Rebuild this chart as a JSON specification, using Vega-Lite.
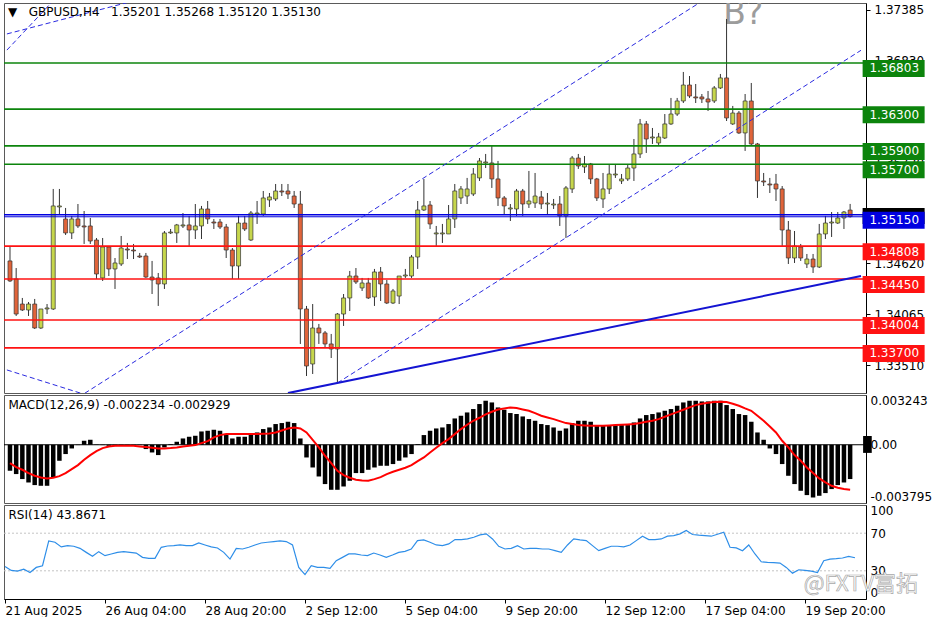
{
"$schema": "https://vega.github.io/schema/vega-lite/v6.json",
"background": "white",
"padding": {"left": 2, "top": 2, "right": 0, "bottom": 0},
"spacing": 2,
"bounds": "flush",
"config": {
  "view": {"stroke": "#5a5a5a", "strokeWidth": 1},
  "axis": {"labelFont": "DejaVu Sans", "labelFontSize": 12, "labelColor": "#000000", "grid": false, "domainColor": "#000000", "tickColor": "#000000"},
  "title": {"font": "DejaVu Sans", "fontSize": 12, "fontWeight": "normal", "color": "#000000", "anchor": "start", "frame": "group", "baseline": "alphabetic"}
},
"datasets": {
"bars": [
{"i":0,"o":1.34647,"h":1.34810,"l":1.34418,"c":1.34429,"m":-0.001695,"s":-0.001195,"r":34.6},
{"i":1,"o":1.34451,"h":1.34570,"l":1.34048,"c":1.34069,"m":-0.00191,"s":-0.001455,"r":30.4},
{"i":2,"o":1.34178,"h":1.34244,"l":1.34102,"c":1.34113,"m":-0.002236,"s":-0.001629,"r":29.6},
{"i":3,"o":1.34113,"h":1.34200,"l":1.34048,"c":1.34178,"m":-0.002458,"s":-0.001846,"r":31.8},
{"i":4,"o":1.34178,"h":1.34233,"l":1.33906,"c":1.33917,"m":-0.002628,"s":-0.00202,"r":28.2},
{"i":5,"o":1.33917,"h":1.34124,"l":1.33906,"c":1.34124,"m":-0.002673,"s":-0.002129,"r":33.6},
{"i":6,"o":1.34124,"h":1.34178,"l":1.34069,"c":1.34135,"m":-0.002673,"s":-0.002194,"r":35.4},
{"i":7,"o":1.34124,"h":1.35431,"l":1.34113,"c":1.35246,"m":-0.002132,"s":-0.00215,"r":61.8},
{"i":8,"o":1.35235,"h":1.35431,"l":1.35158,"c":1.35246,"m":-0.001043,"s":-0.002042,"r":60.4},
{"i":9,"o":1.35104,"h":1.35224,"l":1.34930,"c":1.34952,"m":-0.000606,"s":-0.001846,"r":55.4},
{"i":10,"o":1.34952,"h":1.35137,"l":1.34886,"c":1.35104,"m":-0.000241,"s":-0.001586,"r":56.8},
{"i":11,"o":1.35104,"h":1.35267,"l":1.35006,"c":1.35028,"m":-0.00002,"s":-0.001325,"r":56.1},
{"i":12,"o":1.35028,"h":1.35191,"l":1.34832,"c":1.35017,"m":0.000261,"s":-0.000977,"r":53.9},
{"i":13,"o":1.35028,"h":1.35115,"l":1.34832,"c":1.34864,"m":0.000326,"s":-0.000673,"r":49.6},
{"i":14,"o":1.34875,"h":1.34897,"l":1.34451,"c":1.34505,"m":0.00002,"s":-0.000413,"r":45.4},
{"i":15,"o":1.34462,"h":1.34897,"l":1.34429,"c":1.34799,"m":-0.00002,"s":-0.000217,"r":50.4},
{"i":16,"o":1.34799,"h":1.34810,"l":1.34483,"c":1.34560,"m":-0.000065,"s":-0.000109,"r":46.1},
{"i":17,"o":1.34560,"h":1.34679,"l":1.34342,"c":1.34625,"m":-0.000085,"s":-0.000065,"r":47.9},
{"i":18,"o":1.34614,"h":1.34919,"l":1.34592,"c":1.34788,"m":-0.000065,"s":-0.000065,"r":49.6},
{"i":19,"o":1.34777,"h":1.34843,"l":1.34668,"c":1.34766,"m":-0.000046,"s":-0.000065,"r":50.4},
{"i":20,"o":1.34766,"h":1.34832,"l":1.34668,"c":1.34756,"m":-0.00002,"s":-0.000065,"r":49.6},
{"i":21,"o":1.34701,"h":1.34734,"l":1.34679,"c":1.34690,"m":-0.00002,"s":-0.000109,"r":48.9},
{"i":22,"o":1.34701,"h":1.34734,"l":1.34462,"c":1.34472,"m":-0.00028,"s":-0.000152,"r":44.3},
{"i":23,"o":1.34472,"h":1.34647,"l":1.34287,"c":1.34440,"m":-0.000502,"s":-0.000195,"r":43.2},
{"i":24,"o":1.34462,"h":1.34516,"l":1.34157,"c":1.34396,"m":-0.000672,"s":-0.000239,"r":43.2},
{"i":25,"o":1.34396,"h":1.34973,"l":1.34342,"c":1.34952,"m":-0.000176,"s":-0.000239,"r":55.0},
{"i":26,"o":1.34952,"h":1.34995,"l":1.34941,"c":1.34962,"m":0.000046,"s":-0.000217,"r":56.4},
{"i":27,"o":1.34952,"h":1.35050,"l":1.34843,"c":1.35039,"m":0.000196,"s":-0.000174,"r":56.8},
{"i":28,"o":1.35028,"h":1.35169,"l":1.35006,"c":1.35039,"m":0.000411,"s":-0.000109,"r":57.5},
{"i":29,"o":1.35039,"h":1.35137,"l":1.34810,"c":1.34984,"m":0.000522,"s":-0.000065,"r":56.8},
{"i":30,"o":1.34984,"h":1.35267,"l":1.34886,"c":1.35028,"m":0.000587,"s":-0.000022,"r":56.8},
{"i":31,"o":1.35028,"h":1.35246,"l":1.34886,"c":1.35213,"m":0.000867,"s":0.000109,"r":59.6},
{"i":32,"o":1.35213,"h":1.35300,"l":1.35050,"c":1.35104,"m":0.000913,"s":0.000239,"r":57.5},
{"i":33,"o":1.35071,"h":1.35104,"l":1.34995,"c":1.35060,"m":0.000978,"s":0.000478,"r":55.4},
{"i":34,"o":1.35071,"h":1.35104,"l":1.34995,"c":1.35017,"m":0.000913,"s":0.00063,"r":54.3},
{"i":35,"o":1.35017,"h":1.35050,"l":1.34679,"c":1.34766,"m":0.000698,"s":0.000695,"r":49.6},
{"i":36,"o":1.34766,"h":1.34788,"l":1.34451,"c":1.34592,"m":0.000411,"s":0.000695,"r":42.5},
{"i":37,"o":1.34592,"h":1.35137,"l":1.34451,"c":1.35060,"m":0.000522,"s":0.000695,"r":53.9},
{"i":38,"o":1.35060,"h":1.35137,"l":1.34973,"c":1.34995,"m":0.000522,"s":0.000695,"r":53.2},
{"i":39,"o":1.34875,"h":1.35191,"l":1.34864,"c":1.35169,"m":0.000652,"s":0.000695,"r":55.0},
{"i":40,"o":1.35158,"h":1.35300,"l":1.35050,"c":1.35169,"m":0.000802,"s":0.000695,"r":57.5},
{"i":41,"o":1.35158,"h":1.35409,"l":1.35137,"c":1.35333,"m":0.001024,"s":0.000717,"r":59.6},
{"i":42,"o":1.35311,"h":1.35387,"l":1.35235,"c":1.35344,"m":0.001128,"s":0.000738,"r":60.4},
{"i":43,"o":1.35322,"h":1.35485,"l":1.35300,"c":1.35409,"m":0.00135,"s":0.000804,"r":61.1},
{"i":44,"o":1.35409,"h":1.35485,"l":1.35354,"c":1.35398,"m":0.001415,"s":0.000934,"r":61.8},
{"i":45,"o":1.35409,"h":1.35485,"l":1.35322,"c":1.35376,"m":0.0015,"s":0.001064,"r":61.1},
{"i":46,"o":1.35354,"h":1.35409,"l":1.35224,"c":1.35267,"m":0.001415,"s":0.001129,"r":57.5},
{"i":47,"o":1.35267,"h":1.35409,"l":1.33743,"c":1.34124,"m":0.000411,"s":0.001064,"r":33.6},
{"i":48,"o":1.34124,"h":1.34157,"l":1.33394,"c":1.33503,"m":-0.000828,"s":0.000804,"r":26.0},
{"i":49,"o":1.33525,"h":1.34178,"l":1.33416,"c":1.33917,"m":-0.00148,"s":0.000326,"r":35.4},
{"i":50,"o":1.33917,"h":1.33961,"l":1.33743,"c":1.33863,"m":-0.002067,"s":-0.000174,"r":33.6},
{"i":51,"o":1.33863,"h":1.33884,"l":1.33699,"c":1.33743,"m":-0.002562,"s":-0.000717,"r":33.6},
{"i":52,"o":1.33743,"h":1.33852,"l":1.33590,"c":1.33688,"m":-0.002934,"s":-0.001195,"r":32.5},
{"i":53,"o":1.33688,"h":1.34080,"l":1.33318,"c":1.34069,"m":-0.002934,"s":-0.001694,"r":40.7},
{"i":54,"o":1.34069,"h":1.34287,"l":1.33939,"c":1.34244,"m":-0.002719,"s":-0.001977,"r":44.3},
{"i":55,"o":1.34244,"h":1.34538,"l":1.34102,"c":1.34483,"m":-0.002347,"s":-0.00215,"r":47.9},
{"i":56,"o":1.34483,"h":1.34570,"l":1.34396,"c":1.34418,"m":-0.001845,"s":-0.002281,"r":47.9},
{"i":57,"o":1.34353,"h":1.34462,"l":1.34320,"c":1.34407,"m":-0.001845,"s":-0.002324,"r":46.8},
{"i":58,"o":1.34407,"h":1.34462,"l":1.34233,"c":1.34244,"m":-0.00163,"s":-0.002346,"r":46.1},
{"i":59,"o":1.34255,"h":1.34560,"l":1.34157,"c":1.34527,"m":-0.00148,"s":-0.002237,"r":48.9},
{"i":60,"o":1.34527,"h":1.34581,"l":1.34211,"c":1.34396,"m":-0.001369,"s":-0.002107,"r":46.8},
{"i":61,"o":1.34396,"h":1.34440,"l":1.34178,"c":1.34189,"m":-0.001369,"s":-0.001911,"r":44.3},
{"i":62,"o":1.34189,"h":1.34342,"l":1.34178,"c":1.34320,"m":-0.001258,"s":-0.001759,"r":46.8},
{"i":63,"o":1.34265,"h":1.34483,"l":1.34178,"c":1.34483,"m":-0.001043,"s":-0.001629,"r":49.6},
{"i":64,"o":1.34483,"h":1.34560,"l":1.34462,"c":1.34494,"m":-0.000828,"s":-0.001499,"r":50.7},
{"i":65,"o":1.34483,"h":1.34712,"l":1.34462,"c":1.34690,"m":-0.000606,"s":-0.001325,"r":53.2},
{"i":66,"o":1.34690,"h":1.35300,"l":1.34560,"c":1.35202,"m":0.000046,"s":-0.001064,"r":62.1},
{"i":67,"o":1.35202,"h":1.35540,"l":1.35191,"c":1.35246,"m":0.000632,"s":-0.000825,"r":62.9},
{"i":68,"o":1.35256,"h":1.35300,"l":1.34995,"c":1.35050,"m":0.000913,"s":-0.0005,"r":60.4},
{"i":69,"o":1.34941,"h":1.35028,"l":1.34810,"c":1.34952,"m":0.001063,"s":-0.000195,"r":57.5},
{"i":70,"o":1.34941,"h":1.35050,"l":1.34843,"c":1.34952,"m":0.001128,"s":0.000109,"r":56.8},
{"i":71,"o":1.34941,"h":1.35256,"l":1.34941,"c":1.35104,"m":0.00135,"s":0.000369,"r":58.6},
{"i":72,"o":1.35104,"h":1.35485,"l":1.35006,"c":1.35409,"m":0.001715,"s":0.000695,"r":63.2},
{"i":73,"o":1.35333,"h":1.35463,"l":1.35267,"c":1.35431,"m":0.001891,"s":0.001021,"r":63.2},
{"i":74,"o":1.35354,"h":1.35551,"l":1.35267,"c":1.35431,"m":0.002106,"s":0.001303,"r":63.9},
{"i":75,"o":1.35376,"h":1.35659,"l":1.35354,"c":1.35594,"m":0.002328,"s":0.001564,"r":65.7},
{"i":76,"o":1.35551,"h":1.35768,"l":1.35518,"c":1.35736,"m":0.002654,"s":0.001759,"r":68.2},
{"i":77,"o":1.35714,"h":1.35812,"l":1.35659,"c":1.35725,"m":0.002869,"s":0.001977,"r":69.3},
{"i":78,"o":1.35714,"h":1.35899,"l":1.35442,"c":1.35540,"m":0.002758,"s":0.00215,"r":63.9},
{"i":79,"o":1.35540,"h":1.35736,"l":1.35246,"c":1.35333,"m":0.002432,"s":0.002302,"r":56.1},
{"i":80,"o":1.35333,"h":1.35354,"l":1.35158,"c":1.35246,"m":0.002282,"s":0.002367,"r":53.2},
{"i":81,"o":1.35213,"h":1.35267,"l":1.35082,"c":1.35224,"m":0.002067,"s":0.002433,"r":53.9},
{"i":82,"o":1.35213,"h":1.35431,"l":1.35137,"c":1.35409,"m":0.002002,"s":0.002389,"r":56.8},
{"i":83,"o":1.35409,"h":1.35431,"l":1.35137,"c":1.35267,"m":0.001845,"s":0.002302,"r":53.2},
{"i":84,"o":1.35267,"h":1.35627,"l":1.35224,"c":1.35300,"m":0.001676,"s":0.002215,"r":53.9},
{"i":85,"o":1.35278,"h":1.35605,"l":1.35224,"c":1.35354,"m":0.001565,"s":0.002063,"r":53.9},
{"i":86,"o":1.35344,"h":1.35409,"l":1.35213,"c":1.35267,"m":0.00135,"s":0.00189,"r":53.2},
{"i":87,"o":1.35267,"h":1.35387,"l":1.35158,"c":1.35278,"m":0.001284,"s":0.001781,"r":53.2},
{"i":88,"o":1.35256,"h":1.35322,"l":1.35213,"c":1.35267,"m":0.001128,"s":0.001672,"r":51.4},
{"i":89,"o":1.35267,"h":1.35354,"l":1.35028,"c":1.35137,"m":0.000913,"s":0.001542,"r":49.6},
{"i":90,"o":1.35137,"h":1.35463,"l":1.34897,"c":1.35442,"m":0.001063,"s":0.001412,"r":57.5},
{"i":91,"o":1.35431,"h":1.35790,"l":1.35387,"c":1.35768,"m":0.001415,"s":0.001347,"r":63.9},
{"i":92,"o":1.35768,"h":1.35812,"l":1.35649,"c":1.35681,"m":0.001565,"s":0.001281,"r":62.9},
{"i":93,"o":1.35670,"h":1.35790,"l":1.35605,"c":1.35703,"m":0.001565,"s":0.00126,"r":62.1},
{"i":94,"o":1.35703,"h":1.35714,"l":1.35485,"c":1.35540,"m":0.0015,"s":0.001238,"r":56.8},
{"i":95,"o":1.35540,"h":1.35551,"l":1.35300,"c":1.35333,"m":0.001284,"s":0.001238,"r":51.4},
{"i":96,"o":1.35322,"h":1.35605,"l":1.35224,"c":1.35431,"m":0.001239,"s":0.001238,"r":53.9},
{"i":97,"o":1.35431,"h":1.35703,"l":1.35376,"c":1.35594,"m":0.001284,"s":0.00126,"r":56.1},
{"i":98,"o":1.35583,"h":1.35703,"l":1.35551,"c":1.35594,"m":0.001284,"s":0.001281,"r":56.1},
{"i":99,"o":1.35518,"h":1.35594,"l":1.35485,"c":1.35540,"m":0.001284,"s":0.001303,"r":55.4},
{"i":100,"o":1.35540,"h":1.35703,"l":1.35518,"c":1.35659,"m":0.001284,"s":0.001325,"r":57.5},
{"i":101,"o":1.35659,"h":1.35975,"l":1.35518,"c":1.35812,"m":0.001454,"s":0.001347,"r":62.1},
{"i":102,"o":1.35812,"h":1.36193,"l":1.35768,"c":1.36139,"m":0.001715,"s":0.001412,"r":66.8},
{"i":103,"o":1.36139,"h":1.36171,"l":1.35823,"c":1.35975,"m":0.001936,"s":0.001499,"r":63.2},
{"i":104,"o":1.35986,"h":1.36095,"l":1.35921,"c":1.35997,"m":0.002002,"s":0.001564,"r":63.2},
{"i":105,"o":1.35932,"h":1.36041,"l":1.35899,"c":1.35997,"m":0.002106,"s":0.001672,"r":63.9},
{"i":106,"o":1.35986,"h":1.36247,"l":1.35975,"c":1.36139,"m":0.002217,"s":0.001824,"r":66.8},
{"i":107,"o":1.36139,"h":1.36422,"l":1.36128,"c":1.36247,"m":0.002328,"s":0.001977,"r":67.5},
{"i":108,"o":1.36247,"h":1.36422,"l":1.36226,"c":1.36389,"m":0.002543,"s":0.002129,"r":69.3},
{"i":109,"o":1.36389,"h":1.36705,"l":1.36367,"c":1.36563,"m":0.002758,"s":0.002281,"r":72.9},
{"i":110,"o":1.36563,"h":1.36661,"l":1.36422,"c":1.36443,"m":0.002869,"s":0.002433,"r":68.6},
{"i":111,"o":1.36433,"h":1.36574,"l":1.36367,"c":1.36422,"m":0.002869,"s":0.002585,"r":67.9},
{"i":112,"o":1.36433,"h":1.36465,"l":1.36367,"c":1.36411,"m":0.002823,"s":0.002672,"r":67.5},
{"i":113,"o":1.36411,"h":1.36498,"l":1.36280,"c":1.36378,"m":0.002823,"s":0.002737,"r":66.8},
{"i":114,"o":1.36389,"h":1.36552,"l":1.36367,"c":1.36531,"m":0.002869,"s":0.00278,"r":68.9},
{"i":115,"o":1.36531,"h":1.36683,"l":1.36520,"c":1.36640,"m":0.002869,"s":0.002802,"r":71.1},
{"i":116,"o":1.36640,"h":1.37282,"l":1.36171,"c":1.36204,"m":0.002588,"s":0.00278,"r":55.0},
{"i":117,"o":1.36139,"h":1.36335,"l":1.36128,"c":1.36258,"m":0.002328,"s":0.002672,"r":54.3},
{"i":118,"o":1.36258,"h":1.36280,"l":1.36030,"c":1.36041,"m":0.002002,"s":0.002541,"r":51.4},
{"i":119,"o":1.36041,"h":1.36465,"l":1.35845,"c":1.36389,"m":0.001936,"s":0.002367,"r":57.5},
{"i":120,"o":1.36389,"h":1.36585,"l":1.35910,"c":1.35921,"m":0.0015,"s":0.002215,"r":47.9},
{"i":121,"o":1.35921,"h":1.35932,"l":1.35333,"c":1.35518,"m":0.000802,"s":0.00189,"r":39.6},
{"i":122,"o":1.35518,"h":1.35605,"l":1.35463,"c":1.35507,"m":0.000326,"s":0.001564,"r":38.9},
{"i":123,"o":1.35485,"h":1.35551,"l":1.35387,"c":1.35474,"m":-0.000241,"s":0.001195,"r":38.6},
{"i":124,"o":1.35485,"h":1.35594,"l":1.35300,"c":1.35431,"m":-0.000606,"s":0.000804,"r":38.2},
{"i":125,"o":1.35431,"h":1.35463,"l":1.34810,"c":1.34984,"m":-0.001258,"s":0.000261,"r":33.6},
{"i":126,"o":1.34984,"h":1.35082,"l":1.34614,"c":1.34679,"m":-0.002021,"s":-0.000174,"r":27.5},
{"i":127,"o":1.34679,"h":1.34973,"l":1.34625,"c":1.34810,"m":-0.002562,"s":-0.000673,"r":31.1},
{"i":128,"o":1.34799,"h":1.34832,"l":1.34647,"c":1.34679,"m":-0.002999,"s":-0.001043,"r":30.4},
{"i":129,"o":1.34614,"h":1.34723,"l":1.34570,"c":1.34668,"m":-0.00328,"s":-0.001477,"r":29.6},
{"i":130,"o":1.34668,"h":1.34723,"l":1.34516,"c":1.34581,"m":-0.003436,"s":-0.001846,"r":28.2},
{"i":131,"o":1.34581,"h":1.35050,"l":1.34570,"c":1.34941,"m":-0.003325,"s":-0.002194,"r":40.7},
{"i":132,"o":1.34941,"h":1.35137,"l":1.34886,"c":1.35060,"m":-0.003149,"s":-0.002454,"r":42.5},
{"i":133,"o":1.35060,"h":1.35180,"l":1.34908,"c":1.35071,"m":-0.002888,"s":-0.002672,"r":42.9},
{"i":134,"o":1.35060,"h":1.35180,"l":1.35050,"c":1.35115,"m":-0.002628,"s":-0.002802,"r":43.6},
{"i":135,"o":1.35115,"h":1.35191,"l":1.34995,"c":1.35180,"m":-0.002458,"s":-0.002889,"r":45.4},
{"i":136,"o":1.35201,"h":1.35268,"l":1.35120,"c":1.35130,"m":-0.002234,"s":-0.002929,"r":43.8671}
],
"levels": [
{"p":1.36803,"kind":"res"},{"p":1.363,"kind":"res"},{"p":1.359,"kind":"res"},{"p":1.357,"kind":"res"},
{"p":1.3515,"kind":"piv"},
{"p":1.34808,"kind":"sup"},{"p":1.3445,"kind":"sup"},{"p":1.34004,"kind":"sup"},{"p":1.337,"kind":"sup"}
],
"dashed": [
{"line":"U","i":11,"p":1.33159},{"line":"U","i":113,"p":1.37518},
{"line":"L","i":53,"p":1.33318},{"line":"L","i":137.76,"p":1.36941},
{"line":"A","i":-0.5,"p":1.36943},{"line":"A","i":7.5,"p":1.37517},
{"line":"B","i":-0.5,"p":1.37119},{"line":"B","i":21,"p":1.37496},
{"line":"C","i":-0.5,"p":1.3346},{"line":"C","i":13,"p":1.33174}
],
"trend": [{"i":45,"p":1.33208},{"i":137.76,"p":1.34482}],
"rsilev": [{"lv":70},{"lv":30}]
},
"vconcat": [
{
  "width": 862, "height": 390,
  "title": {"text": "▼\u00a0\u00a0\u00a0GBPUSD,H4\u00a0\u00a0\u00a01.35201 1.35268 1.35120 1.35130", "offset": -16, "dx": 4},
  "layer": [
    {"data": {"values": [{}]},
     "mark": {"type": "text", "text": "B?", "font": "DejaVu Sans", "fontSize": 33, "color": "#9c9c9c", "align": "center", "baseline": "alphabetic", "clip": true},
     "encoding": {
       "x": {"datum": 118.7, "type": "quantitative", "axis": null, "scale": {"domain": [-0.16, 137.76], "nice": false, "zero": false}},
       "y": {"datum": 1.37228, "type": "quantitative", "title": null, "scale": {"domain": [1.33209, 1.37456], "nice": false, "zero": false},
             "axis": {"orient": "right", "values": [1.37385, 1.3683, 1.36275, 1.3572, 1.35165, 1.3462, 1.34065, 1.3351], "format": ".5f", "tickSize": 4, "labelPadding": 4, "labelFlush": false, "labelOverlap": false, "title": null}}}},
    {"data": {"name": "bars"},
     "mark": {"type": "rule", "color": "#333333", "strokeWidth": 1},
     "encoding": {
       "x": {"field": "i", "type": "quantitative", "axis": null},
       "y": {"field": "l", "type": "quantitative", "title": null,
             "axis": {"orient": "right", "values": [1.37385, 1.3683, 1.36275, 1.3572, 1.35165, 1.3462, 1.34065, 1.3351], "format": ".5f", "tickSize": 4, "labelPadding": 4, "labelFlush": false, "labelOverlap": false, "title": null}},
       "y2": {"field": "h"}}},
    {"data": {"name": "bars"},
     "mark": {"type": "bar", "width": 4, "stroke": "#333333", "strokeWidth": 0.7},
     "encoding": {
       "x": {"field": "i", "type": "quantitative", "axis": null},
       "y": {"field": "o", "type": "quantitative", "title": null,
             "axis": {"orient": "right", "values": [1.37385, 1.3683, 1.36275, 1.3572, 1.35165, 1.3462, 1.34065, 1.3351], "format": ".5f", "tickSize": 4, "labelPadding": 4, "labelFlush": false, "labelOverlap": false, "title": null}},
       "y2": {"field": "c"},
       "color": {"condition": {"test": "datum.c >= datum.o", "value": "#c6d64c"}, "value": "#e0643a"}}},
    {"data": {"name": "levels"},
     "mark": {"type": "rule", "strokeWidth": 1.6},
     "encoding": {
       "y": {"field": "p", "type": "quantitative", "title": null,
             "axis": {"orient": "right", "values": [1.37385, 1.3683, 1.36275, 1.3572, 1.35165, 1.3462, 1.34065, 1.3351], "format": ".5f", "tickSize": 4, "labelPadding": 4, "labelFlush": false, "labelOverlap": false, "title": null}},
       "color": {"field": "kind", "type": "nominal", "legend": null, "scale": {"domain": ["res", "sup", "piv"], "range": ["#0c840c", "#ff1212", "#0000e0"]}}}},
    {"data": {"values": [{}]},
     "mark": {"type": "rule", "strokeWidth": 1, "color": "#0000e0"},
     "encoding": {"y": {"datum": 1.35128, "type": "quantitative", "title": null,
             "axis": {"orient": "right", "values": [1.37385, 1.3683, 1.36275, 1.3572, 1.35165, 1.3462, 1.34065, 1.3351], "format": ".5f", "tickSize": 4, "labelPadding": 4, "labelFlush": false, "labelOverlap": false, "title": null}}}},
    {"data": {"name": "dashed"},
     "mark": {"type": "line", "color": "#2a2ae0", "strokeWidth": 1, "strokeDash": [5, 3], "clip": true},
     "encoding": {
       "x": {"field": "i", "type": "quantitative", "axis": null},
       "y": {"field": "p", "type": "quantitative", "title": null,
             "axis": {"orient": "right", "values": [1.37385, 1.3683, 1.36275, 1.3572, 1.35165, 1.3462, 1.34065, 1.3351], "format": ".5f", "tickSize": 4, "labelPadding": 4, "labelFlush": false, "labelOverlap": false, "title": null}},
       "detail": {"field": "line", "type": "nominal"}}},
    {"data": {"name": "trend"},
     "mark": {"type": "line", "color": "#1414d2", "strokeWidth": 2, "clip": true},
     "encoding": {
       "x": {"field": "i", "type": "quantitative", "axis": null},
       "y": {"field": "p", "type": "quantitative", "title": null,
             "axis": {"orient": "right", "values": [1.37385, 1.3683, 1.36275, 1.3572, 1.35165, 1.3462, 1.34065, 1.3351], "format": ".5f", "tickSize": 4, "labelPadding": 4, "labelFlush": false, "labelOverlap": false, "title": null}}}},
    {"data": {"values": [{}]},
     "mark": {"type": "point", "shape": "M-1,-0.222H1V0.3H-1Z", "size": 3844, "filled": true, "opacity": 1, "strokeWidth": 0, "color": "#000000"},
     "encoding": {
       "x": {"datum": 143.04, "type": "quantitative", "axis": null},
       "y": {"datum": 1.3515, "type": "quantitative", "title": null,
             "axis": {"orient": "right", "values": [1.37385, 1.3683, 1.36275, 1.3572, 1.35165, 1.3462, 1.34065, 1.3351], "format": ".5f", "tickSize": 4, "labelPadding": 4, "labelFlush": false, "labelOverlap": false, "title": null}}}},
    {"data": {"name": "levels"},
     "mark": {"type": "point", "shape": "M-1,-0.0968H1V0.4516H-1Z", "size": 3844, "filled": true, "opacity": 1, "strokeWidth": 0},
     "encoding": {
       "x": {"datum": 143.04, "type": "quantitative", "axis": null},
       "y": {"field": "p", "type": "quantitative", "title": null,
             "axis": {"orient": "right", "values": [1.37385, 1.3683, 1.36275, 1.3572, 1.35165, 1.3462, 1.34065, 1.3351], "format": ".5f", "tickSize": 4, "labelPadding": 4, "labelFlush": false, "labelOverlap": false, "title": null}},
       "color": {"field": "kind", "type": "nominal", "legend": null}}},
    {"data": {"name": "levels"},
     "mark": {"type": "text", "color": "#ffffff", "font": "DejaVu Sans", "fontSize": 12, "align": "left", "baseline": "middle", "dy": 5.5},
     "encoding": {
       "x": {"datum": 139.12, "type": "quantitative", "axis": null},
       "y": {"field": "p", "type": "quantitative", "title": null,
             "axis": {"orient": "right", "values": [1.37385, 1.3683, 1.36275, 1.3572, 1.35165, 1.3462, 1.34065, 1.3351], "format": ".5f", "tickSize": 4, "labelPadding": 4, "labelFlush": false, "labelOverlap": false, "title": null}},
       "text": {"field": "p", "type": "quantitative", "format": ".5f"}}}
  ]
},
{
  "width": 862, "height": 108,
  "title": {"text": "MACD(12,26,9) -0.002234 -0.002929", "offset": -17.5, "dx": 4.5},
  "layer": [
    {"data": {"name": "bars"},
     "mark": {"type": "bar", "width": 4.5, "color": "#000000"},
     "encoding": {
       "x": {"field": "i", "type": "quantitative", "axis": null, "scale": {"domain": [-0.16, 137.76], "nice": false, "zero": false}},
       "y": {"field": "m", "type": "quantitative", "stack": null, "title": null,
             "scale": {"domain": [-0.003795, 0.003243], "nice": false, "zero": false},
             "axis": {"orient": "right", "values": [0.003243, 0, -0.003795], "labelExpr": "datum.value == 0 ? '0.00' : toString(datum.value)", "ticks": false, "labelPadding": 4, "labelFlush": true, "labelOverlap": false, "title": null}},
       "y2": {"datum": 0}}},
    {"data": {"values": [{}]},
     "mark": {"type": "rule", "color": "#000000", "strokeWidth": 1},
     "encoding": {"y": {"datum": 0, "type": "quantitative", "title": null,
             "axis": {"orient": "right", "values": [0.003243, 0, -0.003795], "labelExpr": "datum.value == 0 ? '0.00' : toString(datum.value)", "ticks": false, "labelPadding": 4, "labelFlush": true, "labelOverlap": false, "title": null}}}},
    {"data": {"name": "bars"},
     "mark": {"type": "line", "color": "#ff0000", "strokeWidth": 2},
     "encoding": {
       "x": {"field": "i", "type": "quantitative", "axis": null},
       "y": {"field": "s", "type": "quantitative", "title": null,
             "axis": {"orient": "right", "values": [0.003243, 0, -0.003795], "labelExpr": "datum.value == 0 ? '0.00' : toString(datum.value)", "ticks": false, "labelPadding": 4, "labelFlush": true, "labelOverlap": false, "title": null}}}},
    {"data": {"values": [{}]},
     "mark": {"type": "rect", "color": "#000000"},
     "encoding": {
       "x": {"datum": 138.1, "type": "quantitative", "axis": null},
       "x2": {"datum": 139.5},
       "y": {"datum": 0.00057, "type": "quantitative", "title": null,
             "axis": {"orient": "right", "values": [0.003243, 0, -0.003795], "labelExpr": "datum.value == 0 ? '0.00' : toString(datum.value)", "ticks": false, "labelPadding": 4, "labelFlush": true, "labelOverlap": false, "title": null}},
       "y2": {"datum": -0.00053}}}
  ]
},
{
  "width": 862, "height": 94,
  "title": {"text": "RSI(14) 43.8671", "offset": -18, "dx": 4.5},
  "layer": [
    {"data": {"name": "rsilev"},
     "mark": {"type": "rule", "color": "#c4c4c4", "strokeDash": [2, 2], "strokeWidth": 1},
     "encoding": {"y": {"field": "lv", "type": "quantitative", "title": null, "scale": {"domain": [0, 100], "nice": false, "zero": false},
             "axis": {"orient": "right", "values": [100, 70, 30, 0], "ticks": false, "labelPadding": 4, "labelFlush": true, "labelOverlap": false, "title": null}}}},
    {"data": {"name": "bars"},
     "mark": {"type": "line", "color": "#2e8ee8", "strokeWidth": 1.2},
     "encoding": {
       "x": {"field": "i", "type": "quantitative", "title": null,
             "scale": {"domain": [-0.16, 137.76], "nice": false, "zero": false},
             "axis": {"orient": "bottom", "values": [0, 16, 32, 48, 64, 80, 96, 112, 128],
                      "labelExpr": "['21 Aug 2025','26 Aug 04:00','28 Aug 20:00','2 Sep 12:00','5 Sep 04:00','9 Sep 20:00','12 Sep 12:00','17 Sep 04:00','19 Sep 20:00'][round(datum.value/16)]",
                      "labelAlign": "left", "labelBaseline": "top", "labelPadding": 2, "tickSize": 4, "labelFlush": false, "labelOverlap": false, "labelBound": false, "title": null}},
       "y": {"field": "r", "type": "quantitative", "title": null,
             "axis": {"orient": "right", "values": [100, 70, 30, 0], "ticks": false, "labelPadding": 4, "labelFlush": true, "labelOverlap": false, "title": null}}}},
    {"data": {"values": [{}]},
     "mark": {"type": "text", "text": "@FXTV富拓", "font": "Noto Sans CJK SC", "fontSize": 22, "fill": "#ffffff", "stroke": "#a8a8a8", "strokeWidth": 0.7, "align": "left", "baseline": "alphabetic"},
     "encoding": {
       "x": {"datum": 127.8, "type": "quantitative", "title": null,
             "axis": {"orient": "bottom", "values": [0, 16, 32, 48, 64, 80, 96, 112, 128],
                      "labelExpr": "['21 Aug 2025','26 Aug 04:00','28 Aug 20:00','2 Sep 12:00','5 Sep 04:00','9 Sep 20:00','12 Sep 12:00','17 Sep 04:00','19 Sep 20:00'][round(datum.value/16)]",
                      "labelAlign": "left", "labelBaseline": "top", "labelPadding": 2, "tickSize": 4, "labelFlush": false, "labelOverlap": false, "labelBound": false, "title": null}},
       "y": {"datum": 8.5, "type": "quantitative", "title": null,
             "axis": {"orient": "right", "values": [100, 70, 30, 0], "ticks": false, "labelPadding": 4, "labelFlush": true, "labelOverlap": false, "title": null}}}}
  ]
}
]
}
